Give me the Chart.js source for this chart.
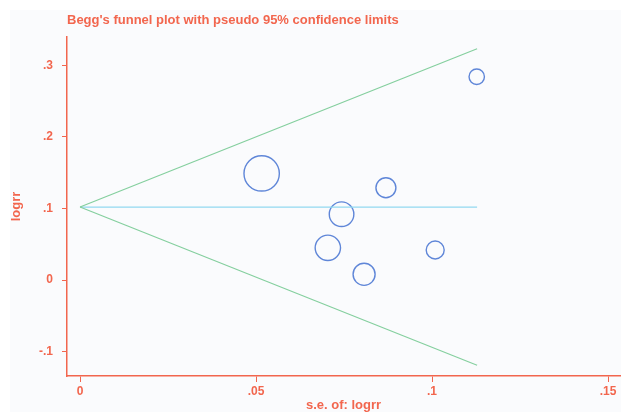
<!DOCTYPE html>
<html>
<head>
<meta charset="utf-8">
<script src="https://cdn.jsdelivr.net/npm/chart.js@4/dist/chart.umd.min.js"></script>
<style>
  html, body { margin: 0; padding: 0; background: #ffffff; }
  #wrap { width: 621px; height: 412px; position: relative; }
</style>
</head>
<body>
<div id="wrap"><canvas id="c" width="621" height="412"></canvas></div>
<script>
// ---- Data ----
const chartTitle = "Begg's funnel plot with pseudo 95% confidence limits";
const xTitle = "s.e. of: logrr";
const yTitle = "logrr";

// Studies: standard error of logrr, logrr, and relative weight (%)
const studySE    = [0.0516, 0.0869, 0.0743, 0.0704, 0.0807, 0.1009, 0.1127];
const studyLogRR = [0.149,  0.129,  0.092,  0.045,  0.008,  0.042,  0.284];
const studyWeight = [31.7, 10.1, 15.3, 16.3, 12.3, 8.2, 6.0];

// Pseudo 95% confidence limits (end points)
const limitSE    = [0, 0.1128];
const upperLimit = [0.102, 0.323];
const lowerLimit = [0.102, -0.119];
const pooledLine = [0.102, 0.102];

// Tick values and labels
const xTickValues = [0, 0.05, 0.1, 0.15];
const xTickLabels = ["0", ".05", ".1", ".15"];
const yTickValues = [-0.1, 0, 0.1, 0.2, 0.3];
const yTickLabels = ["-.1", "0", ".1", ".2", ".3"];

// ---- Styling ----
const RED = '#f2664e';
const GREEN = '#84cf9e';
const CYAN = '#92d9f0';
const BLUE = '#5f86d8';
const FONT = 'Liberation Sans';

const toPts = (xs, ys) => xs.map((x, i) => ({x: x, y: ys[i]}));

const bgPlugin = {
  id: 'bg',
  beforeDraw(chart) {
    const ctx = chart.ctx;
    ctx.save();
    ctx.fillStyle = '#fafbfd';
    ctx.fillRect(10, 10, chart.width - 10, chart.height - 10);
    ctx.restore();
  }
};
const titlePlugin = {
  id: 'stataTitle',
  afterDraw(chart) {
    const ctx = chart.ctx;
    ctx.save();
    ctx.fillStyle = RED;
    ctx.font = 'bold 13px "' + FONT + '"';
    ctx.textAlign = 'left';
    ctx.textBaseline = 'alphabetic';
    ctx.fillText(chartTitle, 67, 24);
    ctx.restore();
  }
};

new Chart(document.getElementById('c'), {
  data: {
    datasets: [
      { type: 'line', data: toPts(limitSE, upperLimit), borderColor: GREEN, borderWidth: 1.2, pointRadius: 0, fill: false },
      { type: 'line', data: toPts(limitSE, lowerLimit), borderColor: GREEN, borderWidth: 1.2, pointRadius: 0, fill: false },
      { type: 'line', data: toPts(limitSE, pooledLine), borderColor: CYAN, borderWidth: 1.2, pointRadius: 0, fill: false },
      { type: 'scatter', data: toPts(studySE, studyLogRR),
        pointRadius: ctx => 3.14 * Math.sqrt(studyWeight[ctx.dataIndex]),
        pointBorderColor: BLUE, pointBackgroundColor: 'rgba(0,0,0,0)', pointBorderWidth: 1.4 }
    ]
  },
  options: {
    responsive: false,
    animation: false,
    events: [],
    layout: { autoPadding: false, padding: { top: 37, left: 0, right: 1, bottom: 0 } },
    plugins: { legend: { display: false }, tooltip: { enabled: false }, title: { display: false } },
    scales: {
      x: {
        type: 'linear', position: 'bottom',
        min: -0.0037, max: 0.1534,
        afterBuildTicks: s => { s.ticks = xTickValues.map(v => ({value: v})); },
        afterFit: s => { s.height = 36; s.paddingLeft = 0; s.paddingRight = 0; },
        grid: { drawOnChartArea: false, drawTicks: true, tickLength: 6, color: RED, lineWidth: 1 },
        border: { color: RED, width: 1.5 },
        ticks: { color: RED, font: { family: FONT, size: 12, weight: 'bold' }, padding: 2, maxRotation: 0,
                 callback: (v, i) => xTickLabels[i] },
        title: { display: true, text: xTitle, color: RED, font: { family: FONT, size: 13, weight: 'bold' }, padding: { top: 0, bottom: -1 } }
      },
      y: {
        type: 'linear', position: 'left',
        min: -0.134, max: 0.3395,
        afterBuildTicks: s => { s.ticks = yTickValues.map(v => ({value: v})); },
        afterFit: s => { s.width = 67; s.paddingTop = 0; s.paddingBottom = 0; },
        grid: { drawOnChartArea: false, drawTicks: true, tickLength: 5, color: RED, lineWidth: 1 },
        border: { color: RED, width: 1.5 },
        ticks: { color: RED, font: { family: FONT, size: 12, weight: 'bold' }, padding: 9,
                 callback: (v, i) => yTickLabels[i] },
        title: { display: true, text: yTitle, color: RED, font: { family: FONT, size: 13, weight: 'bold' }, padding: { top: 9, bottom: 0 } }
      }
    }
  },
  plugins: [bgPlugin, titlePlugin]
});
</script>
</body>
</html>
